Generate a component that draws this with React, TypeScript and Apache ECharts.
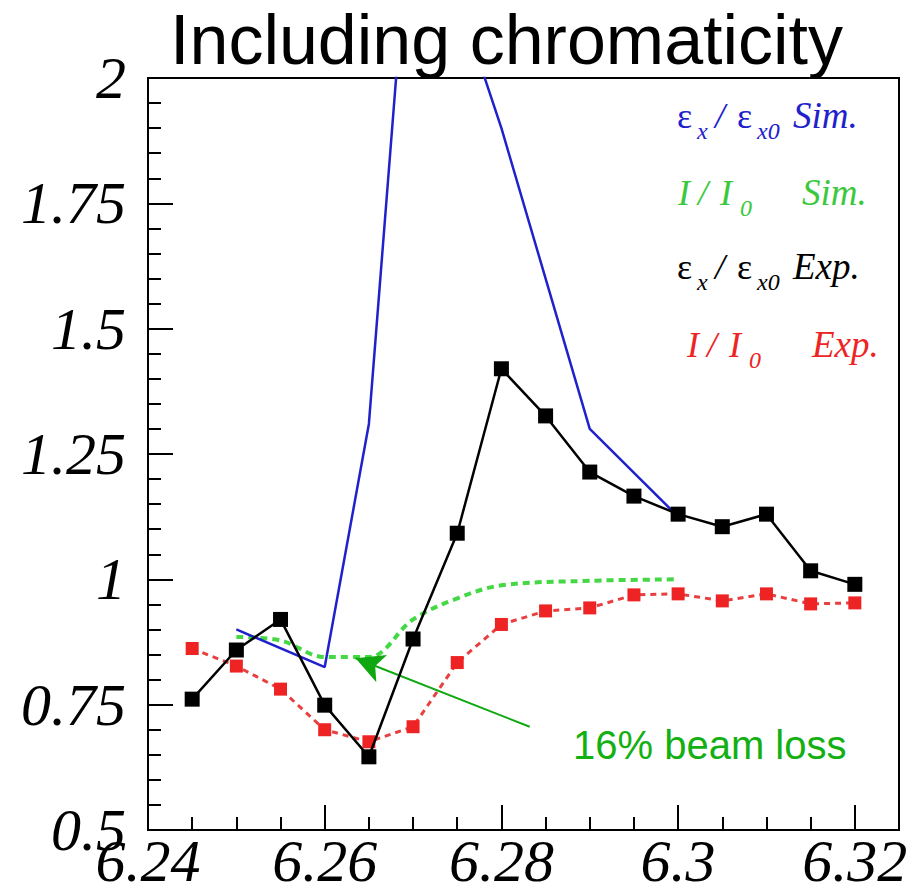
import React, { useEffect, useRef } from "react";
import * as echarts from "echarts";

// ---- data ----
const xExp = [6.245, 6.25, 6.255, 6.26, 6.265, 6.27, 6.275, 6.28, 6.285, 6.29, 6.295, 6.3, 6.305, 6.31, 6.315, 6.32];
const emitExp = [0.761, 0.859, 0.92, 0.749, 0.646, 0.881, 1.092, 1.42, 1.326, 1.214, 1.166, 1.13, 1.105, 1.13, 1.017, 0.99];
const intExp = [0.862, 0.827, 0.781, 0.7, 0.676, 0.706, 0.834, 0.91, 0.937, 0.943, 0.969, 0.971, 0.957, 0.971, 0.951, 0.953];
const xEmitSim = [6.25, 6.26, 6.265, 6.27, 6.28, 6.29, 6.3];
const emitSim = [0.9, 0.825, 1.31, 2.43, 1.9, 1.3, 1.125];
const xIntSim = [6.25, 6.255, 6.26, 6.265, 6.27, 6.275, 6.28, 6.29, 6.3];
const intSim = [0.885, 0.878, 0.845, 0.845, 0.92, 0.962, 0.988, 0.997, 1.0];
const xTickLabels = ["6.24", "6.26", "6.28", "6.3", "6.32"];
const yTickLabels = ["0.5", "0.75", "1", "1.25", "1.5", "1.75", "2"];
const arrowFrom = [6.2832, 0.706];
const arrowTo = [6.2635, 0.8425];
const titleText = "Including chromaticity";
const noteText = "16% beam loss";

const pairs = (xs: number[], ys: number[]) => xs.map((x, i) => [x, ys[i]]);

const BLUE = "#2020cc";
const GREEN = "#44d844";
const RED = "#ee2424";
const SERIF = "'Liberation Serif', 'DejaVu Serif', serif";
const SANS = "'Liberation Sans', Arial, sans-serif";

function glyph(text: string, x: number, baseline: number, size: number, color: string, italic = true) {
  return {
    type: "text",
    x,
    y: baseline - 0.34 * size,
    silent: true,
    style: {
      text,
      fill: color,
      font: `${italic ? "italic " : ""}${size}px ${SERIF}`,
      align: "left",
      verticalAlign: "middle",
    },
  };
}

function emitRow(baseline: number, color: string, tail: string, tailX: number) {
  return [
    glyph("ε", 677, baseline, 36, color, false),
    glyph("x", 697, baseline + 11, 24, color),
    glyph("/", 715, baseline, 36, color),
    glyph("ε", 737, baseline, 36, color, false),
    glyph("x0", 757, baseline + 11, 24, color),
    glyph(tail, tailX, baseline, 37, color),
  ];
}

function intRow(baseline: number, color: string, x0: number, tail: string, tailX: number) {
  return [
    glyph("I", x0, baseline, 36, color),
    glyph("/", x0 + 20, baseline, 36, color),
    glyph("I", x0 + 42, baseline, 36, color),
    glyph("0", x0 + 62, baseline + 11, 24, color),
    glyph(tail, tailX, baseline, 37, color),
  ];
}

export default function App() {
  const ref = useRef<HTMLDivElement>(null);
  useEffect(() => {
    if (!ref.current) return;
    const chart = echarts.init(ref.current, null, { renderer: "svg" });
    const labelFont = { fontFamily: SERIF, fontStyle: "italic", fontSize: 60, lineHeight: 56, color: "#000" };
    chart.setOption({
      animation: false,
      backgroundColor: "#fff",
      grid: { left: 148, right: 14, top: 78, bottom: 66, show: true, borderColor: "#000", borderWidth: 2, backgroundColor: "transparent" },
      xAxis: [
        {
          type: "value",
          min: 6.24,
          max: 6.325,
          interval: 0.02,
          axisLine: { show: true, lineStyle: { color: "#000", width: 2 } },
          axisTick: { show: true, inside: true, length: 25, lineStyle: { color: "#000", width: 2 } },
          splitLine: { show: false },
          axisLabel: {
            ...labelFont,
            margin: 3,
            showMaxLabel: false,
            formatter: (v: number) => {
              const i = Math.round((v - 6.24) / 0.02);
              return Math.abs(v - (6.24 + i * 0.02)) < 1e-6 && xTickLabels[i] ? xTickLabels[i] : "";
            },
          },
        },
        {
          type: "value",
          position: "bottom",
          min: 6.24,
          max: 6.325,
          interval: 0.005,
          axisLine: { show: false },
          axisTick: { show: true, inside: true, length: 13, lineStyle: { color: "#000", width: 2 } },
          splitLine: { show: false },
          axisLabel: { show: false },
        },
      ],
      yAxis: {
        type: "value",
        min: 0.5,
        max: 2,
        interval: 0.25,
        axisLine: { show: true, lineStyle: { color: "#000", width: 2 } },
        axisTick: { show: true, inside: true, length: 25, lineStyle: { color: "#000", width: 2 } },
        minorTick: { show: true, splitNumber: 5, length: 13, lineStyle: { color: "#000", width: 2 } },
        splitLine: { show: false },
        axisLabel: {
          ...labelFont,
          margin: 22,
          formatter: (v: number) => yTickLabels[Math.round((v - 0.5) / 0.25)] ?? "",
        },
      },
      series: [
        {
          name: "I/I0 Exp.",
          type: "line",
          data: pairs(xExp, intExp),
          symbol: "rect",
          symbolSize: 13,
          itemStyle: { color: RED },
          lineStyle: { color: "#e84040", width: 3, type: [6, 5] },
          z: 2,
        },
        {
          name: "I/I0 Sim.",
          type: "line",
          data: pairs(xIntSim, intSim),
          showSymbol: false,
          symbol: "none",
          smooth: 0.35,
          lineStyle: { color: GREEN, width: 4, type: [7, 5] },
          z: 3,
          markLine: {
            silent: true,
            symbol: ["none", "arrow"],
            symbolSize: [22, 28],
            label: { show: false },
            lineStyle: { color: "#10a810", width: 2, type: "solid" },
            data: [[{ coord: arrowFrom }, { coord: arrowTo }]],
          },
        },
        {
          name: "εx/εx0 Sim.",
          type: "line",
          data: pairs(xEmitSim, emitSim),
          symbol: "none",
          clip: true,
          lineStyle: { color: BLUE, width: 2.5 },
          z: 4,
        },
        {
          name: "εx/εx0 Exp.",
          type: "line",
          data: pairs(xExp, emitExp),
          symbol: "rect",
          symbolSize: 15,
          itemStyle: { color: "#000" },
          lineStyle: { color: "#000", width: 2.5 },
          z: 5,
        },
      ],
      graphic: [
        {
          type: "text",
          x: 170,
          y: 40,
          silent: true,
          style: { text: titleText, fill: "#000", font: `70px ${SANS}`, align: "left", verticalAlign: "middle" },
        },
        {
          type: "text",
          x: 573,
          y: 745,
          silent: true,
          style: { text: noteText, fill: "#12b012", font: `40px ${SANS}`, align: "left", verticalAlign: "middle" },
        },
        ...emitRow(128, BLUE, "Sim.", 793),
        ...intRow(205, "#3cc83c", 678, "Sim.", 802),
        ...emitRow(279, "#000", "Exp.", 793),
        ...intRow(357, RED, 687, "Exp.", 812),
      ],
    });
    return () => chart.dispose();
  }, []);
  return <div ref={ref} style={{ position: "absolute", left: 0, top: 0, width: 913, height: 896 }} />;
}
